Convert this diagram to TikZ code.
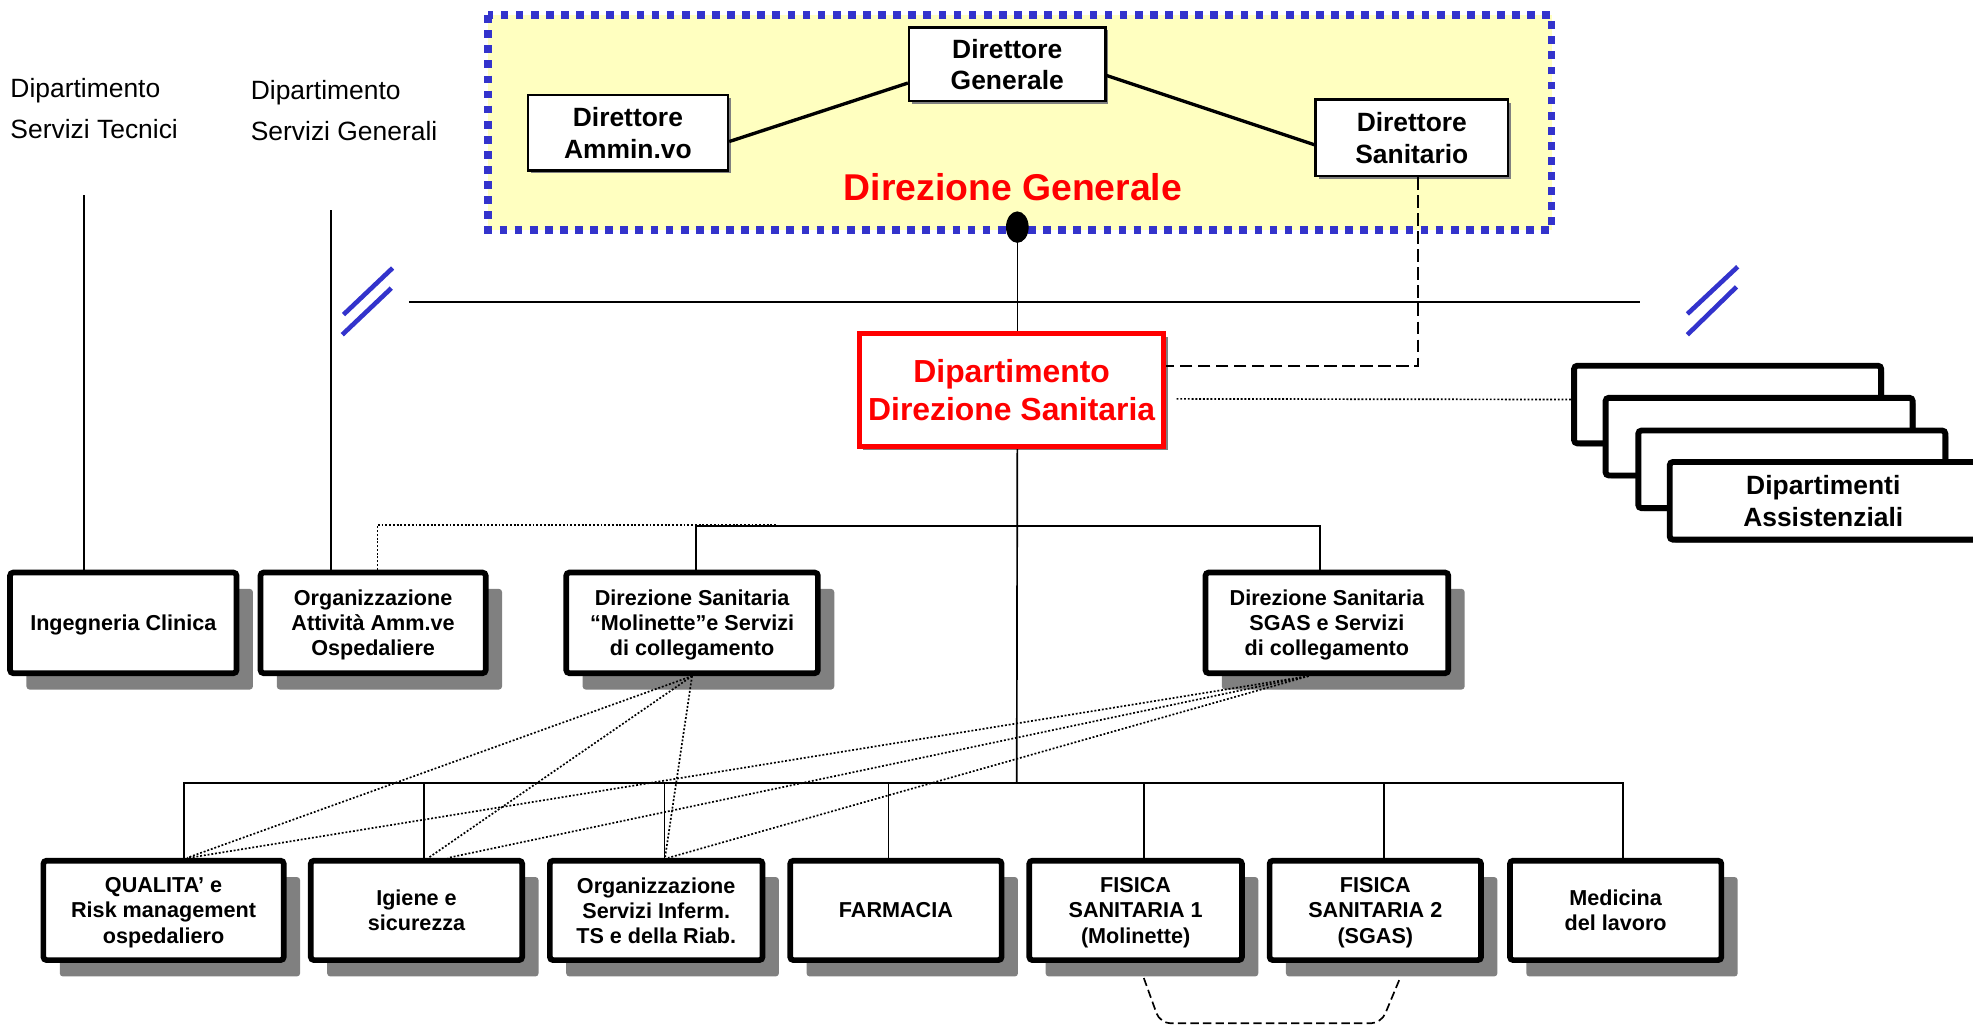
\documentclass[tikz,border=0pt]{standalone}
\usepackage{fontspec}
\setmainfont{Liberation Sans}
\usetikzlibrary{shadows,shapes.geometric,calc}
\definecolor{ylw}{HTML}{FFFFC0}
\definecolor{dgblue}{HTML}{3333CC}
\definecolor{shgray}{HTML}{808080}
\definecolor{dgred}{HTML}{FF0000}
\begin{document}
\begin{tikzpicture}[x=0.6pt,y=-0.6pt,
  dirbox/.style={draw, line width=1.2pt, fill=white, inner sep=0pt, align=center,
    text depth=-2.4pt,
    font=\fontsize{12.6}{15}\selectfont\bfseries,
    drop shadow={shadow xshift=1.4pt, shadow yshift=-1.4pt, fill=shgray, opacity=1}},
  unitbox/.style={draw, line width=2.7pt, rounded corners=1.5pt, fill=white, inner sep=0pt, align=center,
    text depth=-2.6pt,
    font=\fontsize{10.3}{12}\selectfont\bfseries,
    drop shadow={shadow xshift=7.8pt, shadow yshift=-7.8pt, fill=shgray, opacity=1}},
  stackbox/.style={draw, line width=2.8pt, rounded corners=1.5pt, fill=white, inner sep=0pt, align=center,
    minimum width=146.4pt, minimum height=37pt, text depth=-1.8pt,
    font=\fontsize{12.6}{15}\selectfont\bfseries,
    drop shadow={shadow xshift=1.4pt, shadow yshift=-1.4pt, fill=shgray, opacity=1}},
  redbox/.style={draw=dgred, line width=2.4pt, fill=white, inner sep=0pt, align=center,
    text depth=-2.4pt,
    text=dgred, font=\fontsize{15.2}{18}\selectfont\bfseries,
    drop shadow={shadow xshift=1.8pt, shadow yshift=-1.8pt, fill=shgray, opacity=1}},
  sidelabel/.style={anchor=north west, inner sep=0pt, align=left,
    font=\fontsize{12.6}{19.4}\selectfont},
  thinline/.style={line width=0.8pt},
  dirline/.style={line width=1.6pt},
  slash/.style={draw=dgblue, line width=2.2pt},
  dotline/.style={line width=0.8pt, dash pattern=on 0.9pt off 0.9pt},
  dsdash/.style={line width=1.1pt, dash pattern=on 6pt off 2.6pt},
  fisdash/.style={line width=0.8pt, dash pattern=on 4pt off 2pt, rounded corners=5pt}
]
\useasboundingbox (0,0) rectangle (1568,815);

% Direzione Generale area
\draw[draw=dgblue, line width=3.8pt, dash pattern=on 3.7pt off 3.5pt, fill=ylw] (388,12) rectangle (1233,183);

% top boxes
\node[dirbox, minimum width=93.6pt, minimum height=35pt] (dg) at (800.5,51) {Direttore\\Generale};
\node[dirbox, minimum width=95.4pt, minimum height=36pt] (da) at (499,105.5) {Direttore\\Ammin.vo};
\node[dirbox, minimum width=91.8pt, minimum height=36.4pt] (ds) at (1122,109.5) {Direttore\\Sanitario};
\node[text=dgred, font=\fontsize{17.8}{20}\selectfont\bfseries, inner sep=0pt] (dgtitle) at (805,149) {Direzione Generale};

\draw[dirline] ([yshift=-4.2pt]da.east) -- ([yshift=-9pt]dg.west);
\draw[dirline] ([yshift=-5.4pt]dg.east) -- ([yshift=-3.3pt]ds.west);

% side labels
\node[sidelabel] (dst) at (8,62) {Dipartimento\\Servizi Tecnici};
\node[sidelabel] (dsg) at (199,63.5) {Dipartimento\\Servizi Generali};

% red box
\node[redbox, minimum width=145.2pt, minimum height=54pt] (red) at (804,310) {Dipartimento\\Direzione Sanitaria};

% stacked departments
\node[stackbox] (b1) at (1373,321.5) {};
\node[stackbox] (b2) at (1398,347) {};
\node[stackbox] (b3) at (1424,373) {};
\node[stackbox] (b4) at (1449,398) {Dipartimenti\\Assistenziali};

% middle tier
\node[unitbox, minimum width=108pt, minimum height=48pt] (ing) at (98,495) {Ingegneria Clinica};
\node[unitbox, minimum width=107.4pt, minimum height=48pt] (org) at (296.5,495) {Organizzazione\\Attività Amm.ve\\Ospedaliere};
\node[unitbox, minimum width=120pt, minimum height=48pt] (mol) at (550,495) {Direzione Sanitaria\\“Molinette”e Servizi\\di collegamento};
\node[unitbox, minimum width=115.8pt, minimum height=48pt] (sgas) at (1054.5,495) {Direzione Sanitaria\\SGAS e Servizi\\di collegamento};

% bottom tier
\node[unitbox, minimum width=114.6pt, minimum height=47.4pt] (qual) at (130,723.5) {QUALITA’ e\\Risk management\\ospedaliero};
\node[unitbox, minimum width=100.8pt, minimum height=47.4pt] (igi) at (331,723.5) {Igiene e\\sicurezza};
\node[unitbox, minimum width=101.4pt, minimum height=47.4pt] (osi) at (521.5,723.5) {Organizzazione\\Servizi Inferm.\\TS e della Riab.};
\node[unitbox, minimum width=100.8pt, minimum height=47.4pt] (far) at (712,723.5) {FARMACIA};
\node[unitbox, minimum width=101.4pt, minimum height=47.4pt] (fs1) at (902.5,723.5) {FISICA\\SANITARIA 1\\(Molinette)};
\node[unitbox, minimum width=100.8pt, minimum height=47.4pt] (fs2) at (1093,723.5) {FISICA\\SANITARIA 2\\(SGAS)};
\node[unitbox, minimum width=100.8pt, minimum height=47.4pt] (med) at (1284,723.5) {Medicina\\del lavoro};

% coordinates
\coordinate (hl) at (325,240);
\coordinate (hr) at (1303,240);
\coordinate (stc) at (67,155);
\coordinate (sgc) at (263,167);
\coordinate (mb) at (808,418);
\coordinate (dotend) at (618,417);
\coordinate (bus) at (808,622);

% dot
\node[ellipse, fill=black, inner sep=0pt, minimum width=10.8pt, minimum height=15pt] (dot) at (808.5,180.5) {};

% main vertical and horizontal
\draw[thinline] (dot.center) -- (dot.center |- red.north);
\draw[thinline] (dot.center |- red.south) -- (bus);
\draw[thinline] (hl) -- (hr);

% blue slashes
\draw[slash] (273,250) -- (312,213);
\draw[slash] (272,266) -- (311,229);
\draw[slash] (1341,249.5) -- (1381,212);
\draw[slash] (1341,266) -- (1380,228);

% side verticals
\draw[thinline] (stc) -- (stc |- ing.north);
\draw[thinline] (sgc) -- (sgc |- org.north);

% dashed link from Direttore Sanitario
\draw[dsdash] ([xshift=3pt]ds.south) |- ([yshift=11.4pt]red.east);
% dotted link to departments
\draw[dotline] ([xshift=4.8pt,yshift=-4.2pt]red.east) -- ([yshift=2.4pt]b1.west);

% middle bus
\draw[thinline] ([xshift=1.8pt]mol.north) |- (mb) -| ([xshift=-3.3pt]sgas.north);
\draw[dotline] ([xshift=2.1pt]org.north) |- (dotend);

% bottom bus
\foreach \n/\dx in {qual/9.6pt, igi/3.6pt, osi/3.9pt, far/-3.6pt, fs1/3.9pt, fs2/4.2pt, med/3.6pt}
  \draw[thinline] ([xshift=\dx]\n.north) |- (bus);

% dotted fan lines
\draw[dotline] (mol.south) -- ([xshift=11.2pt]qual.north);
\draw[dotline] (mol.south) -- ([xshift=5.7pt]igi.north);
\draw[dotline] (mol.south) -- ([xshift=4.2pt]osi.north);
\draw[dotline] ([xshift=-8.7pt]sgas.south) -- ([xshift=12pt]qual.north);
\draw[dotline] ([xshift=-8.7pt]sgas.south) -- ([xshift=15pt]igi.north);
\draw[dotline] ([xshift=-8.7pt]sgas.south) -- ([xshift=5.7pt]osi.north);

% dashed link between Fisica Sanitaria 1 and 2
\coordinate (fa) at ([xshift=3.9pt,yshift=-7.2pt]fs1.south);
\coordinate (fb) at ([xshift=11.8pt,yshift=-7.2pt]fs2.south);
\draw[fisdash] (fa) -- ($(fa)+(13,36)$) -- ($(fb)+(-15,36)$) -- (fb);
\end{tikzpicture}
\end{document}
